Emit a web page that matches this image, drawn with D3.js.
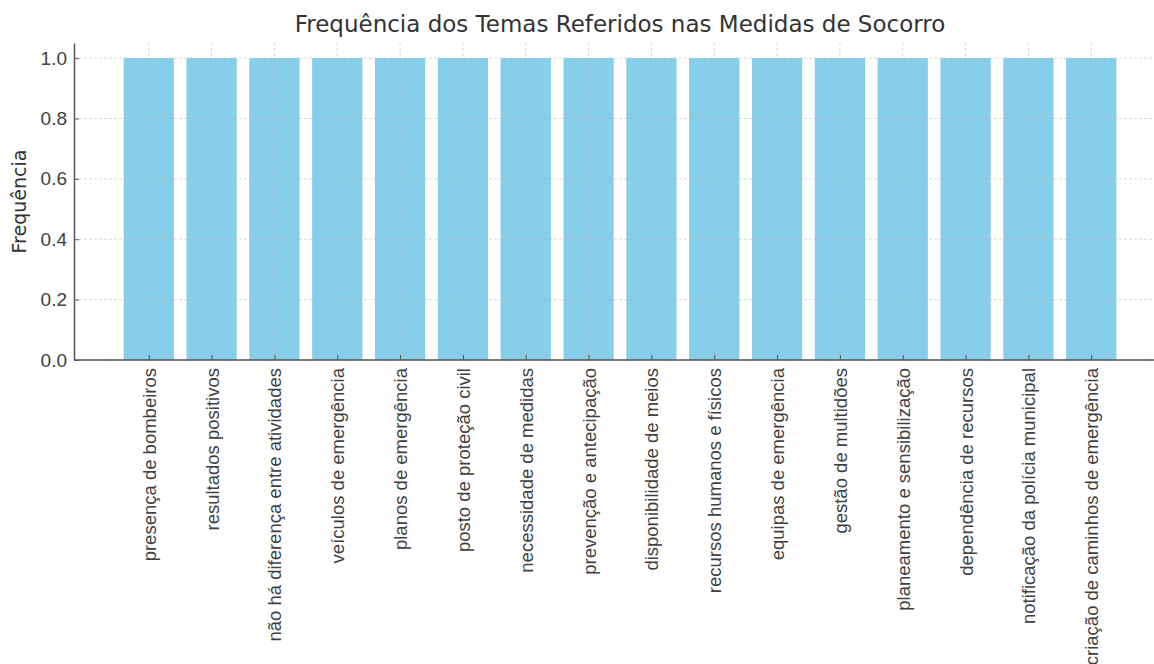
<!DOCTYPE html>
<html>
<head>
<meta charset="utf-8">
<script src="https://cdn.jsdelivr.net/npm/d3@7"></script>
<style>
  body { margin: 0; background: #fff; overflow: hidden; }
  svg { font-family: "DejaVu Sans", sans-serif; display: block; }
</style>
</head>
<body>
<svg id="chart" width="1154" height="664"></svg>
<script>
// ── Data ─────────────────────────────────
const temas = [
  'presença de bombeiros', 'resultados positivos', 'não há diferença entre atividades',
  'veículos de emergência', 'planos de emergência', 'posto de proteção civil',
  'necessidade de medidas', 'prevenção e antecipação', 'disponibilidade de meios',
  'recursos humanos e físicos', 'equipas de emergência', 'gestão de multidões',
  'planeamento e sensibilização', 'dependência de recursos', 'notificação da polícia municipal',
  'criação de caminhos de emergência'
];
const frequencias = [1, 1, 1, 1, 1, 1, 1, 1, 1, 1, 1, 1, 1, 1, 1, 1];
const yTicks = [0, 0.2, 0.4, 0.6, 0.8, 1.0];

// ── Layout ───────────────────────────────
const svg = d3.select('#chart');
const mLeft = 74, mRight = 1166, mTop = 43, mBottom = 360;

// index scale with 5% side margins (like matplotlib)
const n = temas.length;
const x = d3.scaleLinear().domain([-1.19, n - 1 + 1.19]).range([mLeft, mRight]);
const y = d3.scaleLinear().domain([0, 1.05]).range([mBottom, mTop]);
const barW = x(0.8) - x(0);

// Bars
svg.append('g').selectAll('rect').data(frequencias).join('rect')
  .attr('x', (d, i) => x(i) - barW / 2)
  .attr('y', d => y(d))
  .attr('width', barW)
  .attr('height', d => y(0) - y(d))
  .attr('fill', '#87ceeb');

// Grid (over the bars, dashed)
const grid = svg.append('g').attr('stroke', '#b0b0b0').attr('stroke-opacity', 0.6)
  .attr('stroke-dasharray', '3,2').attr('stroke-width', 0.8);
grid.selectAll('.gy').data(yTicks).join('line')
  .attr('x1', mLeft).attr('x2', mRight)
  .attr('y1', d => y(d)).attr('y2', d => y(d));
grid.selectAll('.gx').data(d3.range(n)).join('line')
  .attr('x1', d => x(d)).attr('x2', d => x(d))
  .attr('y1', mTop).attr('y2', mBottom);

// Y axis (ticks pointing in)
const yAxis = svg.append('g').attr('transform', `translate(${mLeft},0)`)
  .call(d3.axisLeft(y).tickValues(yTicks).tickFormat(d3.format('.1f')).tickSizeInner(-5).tickSizeOuter(0).tickPadding(7));
yAxis.select('.domain').attr('stroke', '#555').attr('stroke-width', 1.5);
yAxis.selectAll('.tick line').attr('stroke', '#555');
yAxis.selectAll('.tick text').attr('fill', '#404040').attr('font-size', 19);

// X axis
const xAxis = svg.append('g').attr('transform', `translate(0,${mBottom})`)
  .call(d3.axisBottom(x).tickValues(d3.range(n)).tickFormat(i => temas[i]).tickSizeInner(-5).tickSizeOuter(0));
xAxis.select('.domain').attr('d', `M${mLeft},0H${mRight}`).attr('stroke', '#555').attr('stroke-width', 1.5);
xAxis.selectAll('.tick line').attr('stroke', '#555');
xAxis.selectAll('.tick text')
  .attr('fill', '#404040').attr('font-size', 18.5)
  .attr('transform', 'rotate(-90)')
  .attr('text-anchor', 'end')
  .attr('dy', '0.35em')
  .attr('x', -8).attr('y', 0);

// Titles
svg.append('text')
  .attr('x', (mLeft + mRight) / 2).attr('y', 32)
  .attr('text-anchor', 'middle').attr('font-size', 23).attr('fill', '#333')
  .text('Frequência dos Temas Referidos nas Medidas de Socorro');

svg.append('text')
  .attr('transform', `translate(26,${(mTop + mBottom) / 2}) rotate(-90)`)
  .attr('text-anchor', 'middle').attr('font-size', 19).attr('fill', '#333')
  .text('Frequência');
</script>
</body>
</html>
